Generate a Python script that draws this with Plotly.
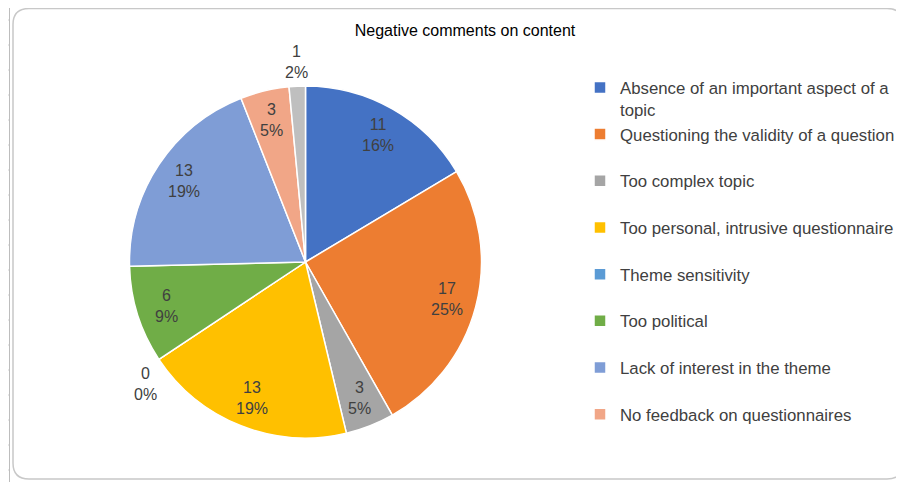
import math
import plotly.graph_objects as go

categories = [
    "Absence of an important aspect of a topic",
    "Questioning the validity of a question",
    "Too complex topic",
    "Too personal, intrusive questionnaire",
    "Theme sensitivity",
    "Too political",
    "Lack of interest in the theme",
    "No feedback on questionnaires",
    "Other",
]
values = [11, 17, 3, 13, 0, 6, 13, 3, 1]
percent_labels = ["16%", "25%", "5%", "19%", "0%", "9%", "19%", "5%", "2%"]
colors = ["#4472C4", "#ED7D31", "#A5A5A5", "#FFC000", "#5B9BD5",
          "#70AD47", "#7F9DD6", "#F1A687", "#BFBFBF"]

# page has an 8px body margin, so the figure is 8px smaller than the window
OFF = 8
W, H = 904 - OFF, 482 - OFF
TXT = "#404040"
FONT = "Liberation Sans, Arial"


def px(x):
    return (x - OFF) / W


def py(y):
    return 1 - (y - OFF) / H


legend_labels = []
for c in categories:
    if c.startswith("Absence"):
        legend_labels.append("Absence of an important aspect of a<br>topic")
    else:
        legend_labels.append(c + "<br> ")

cx, cy, r = 305.5, 262, 176
fig = go.Figure(go.Pie(
    labels=legend_labels,
    values=values,
    textinfo="none",
    sort=False,
    direction="clockwise",
    rotation=0,
    marker=dict(colors=colors, line=dict(color="white", width=1.5)),
    domain=dict(x=[px(cx - r), px(cx + r)], y=[py(cy + r), py(cy - r)]),
    hoverinfo="label+value+percent",
))

# data labels, positioned from the slice angles (Excel style)
total = sum(values)
annotations = []
cum = 0
for v, p in zip(values, percent_labels):
    small = v <= 1
    ang_val = cum + v / 2
    if v == 0:
        ang_val = cum - 0.7
    ang = 2 * math.pi * ang_val / total
    rad = (1.14 if small else 0.83) * r
    lx = cx + rad * math.sin(ang)
    ly = cy - rad * math.cos(ang)
    annotations.append(dict(
        x=px(lx), y=py(ly), xref="paper", yref="paper",
        text=f"{v}<br>{p}", showarrow=False,
        xanchor="center", yanchor="middle",
        font=dict(family=FONT, size=16, color=TXT),
    ))
    cum += v

# chart frame (rounded rectangle) and sheet edge
x0, y0, x1, y1, rr = 13, 8.5, 903, 479, 16
path = (f"M {px(x0 + rr)},{py(y0)} L {px(x1 - rr)},{py(y0)} "
        f"Q {px(x1)},{py(y0)} {px(x1)},{py(y0 + rr)} "
        f"L {px(x1)},{py(y1 - rr)} Q {px(x1)},{py(y1)} {px(x1 - rr)},{py(y1)} "
        f"L {px(x0 + rr)},{py(y1)} Q {px(x0)},{py(y1)} {px(x0)},{py(y1 - rr)} "
        f"L {px(x0)},{py(y0 + rr)} Q {px(x0)},{py(y0)} {px(x0 + rr)},{py(y0)} Z")
shapes = [dict(type="path", path=path, xref="paper", yref="paper",
               line=dict(color="#C8C8C8", width=1.5), layer="below")]
shapes.append(dict(type="line", xref="paper", yref="paper",
                   x0=px(9.5), x1=px(9.5), y0=py(482), y1=py(0),
                   line=dict(color="#BDBDBD", width=1)))
for ty in range(20, 482, 25):
    shapes.append(dict(type="line", xref="paper", yref="paper",
                       x0=px(0), x1=px(9), y0=py(ty), y1=py(ty),
                       line=dict(color="#D0D0D0", width=1)))

fig.update_layout(
    width=W, height=H,
    margin=dict(l=0, r=0, t=0, b=0, autoexpand=False),
    paper_bgcolor="white",
    plot_bgcolor="white",
    title=dict(text="Negative comments on content", x=px(465), xanchor="center",
               y=py(30), yanchor="middle", yref="container",
               font=dict(family=FONT, size=16, color="#000000")),
    showlegend=True,
    legend=dict(x=px(580), xanchor="left", y=py(70), yanchor="top",
                font=dict(family=FONT, size=16.8, color=TXT),
                valign="top", bgcolor="rgba(0,0,0,0)", maxheight=382,
                traceorder="normal"),
    shapes=shapes,
    annotations=annotations,
)

fig.write_html("out.html")
